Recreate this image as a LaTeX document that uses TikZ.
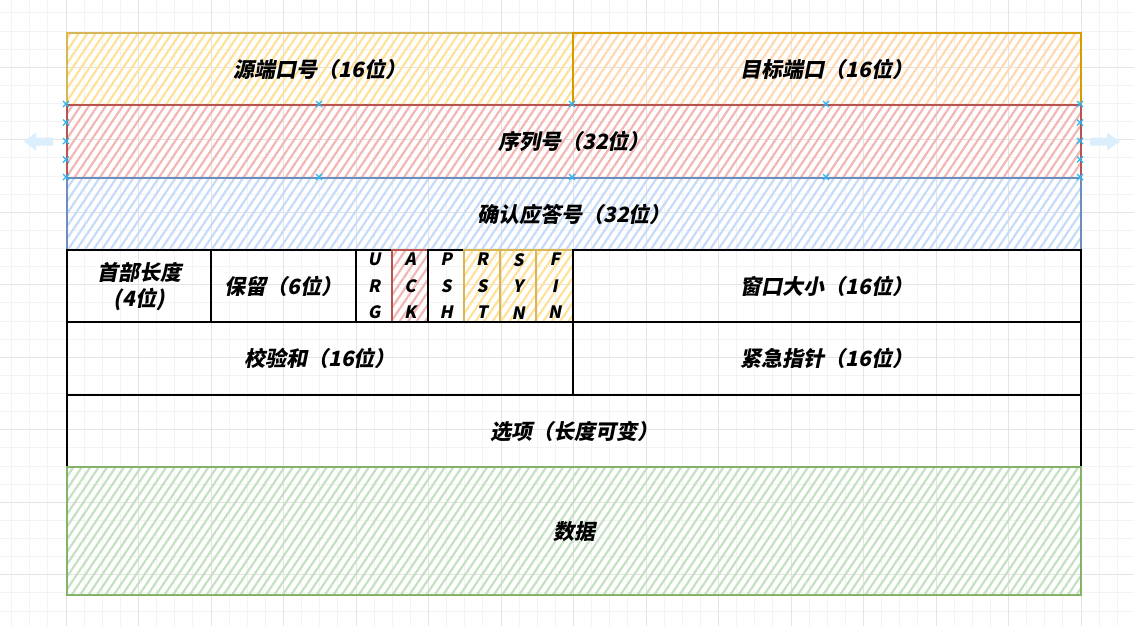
\documentclass[tikz,border=0pt]{standalone}
\usepackage{fontspec}
\setmainfont{Noto Sans CJK SC}[FakeSlant=0.2]
\usetikzlibrary{patterns.meta}
\definecolor{ystroke}{HTML}{D6B656}
\definecolor{yhatch}{HTML}{FFE29A}
\definecolor{ostroke}{HTML}{D79B00}
\definecolor{ohatch}{HTML}{FFD9B0}
\definecolor{rstroke}{HTML}{B85450}
\definecolor{rhatch}{HTML}{F2B7B4}
\definecolor{bstroke}{HTML}{6C8EBF}
\definecolor{bhatch}{HTML}{C6DBF8}
\definecolor{gstroke}{HTML}{82B366}
\definecolor{ghatch}{HTML}{C5E0C2}
\definecolor{gridminor}{HTML}{F3F3F3}
\definecolor{gridmajor}{HTML}{E4E4E4}
\definecolor{handle}{HTML}{29B6F2}
\definecolor{uiarrow}{HTML}{DBEEFB}
\tikzset{
  base/.style={draw=black, line width=2.3pt, anchor=north west, inner sep=0pt,
    align=center, font=\fontsize{21}{26}\selectfont\bfseries},
  hatch/.style 2 args={base, draw=#1,
    pattern={Lines[angle=56,distance=7pt,line width=2.2pt]}, pattern color=#2},
  flag/.style={font=\fontsize{17}{26.5}\selectfont\bfseries, minimum width=36pt, minimum height=72pt},
  gminor/.style={draw=gridminor, line width=0.8pt},
  gmajor/.style={draw=gridmajor, line width=1pt},
  hmark/.style={draw=handle, line width=1.2pt},
  uiarr/.style={fill=uiarrow, draw=none},
}
\begin{document}
\begin{tikzpicture}[x=1pt, y=-1pt]
\useasboundingbox (0,0) rectangle (1134,626);
\fill[white] (0,0) rectangle (1134,626);
% grid
\begin{scope}
\clip (0,0) rectangle (1134,626);
\foreach \i in {0,...,63} {\draw[gminor] ({-6.5+\i*18.125},0) -- ++(0,626);}
\foreach \i in {0,...,35} {\draw[gminor] (0,{-5.25+\i*18.125}) -- ++(1134,0);}
\foreach \i in {0,...,16} {\draw[gmajor] ({-6.5+\i*72.5},0) -- ++(0,626);}
\foreach \i in {0,...,9} {\draw[gmajor] (0,{-5.25+\i*72.5}) -- ++(1134,0);}
\end{scope}
% UI arrows
\path[uiarr] (24,141.5) -- (36,132.5) -- (36,137.5) -- (53,137.5) -- (53,145.5) -- (36,145.5) -- (36,150.5) -- cycle;
\path[uiarr] (1120,141.5) -- (1107,132.5) -- (1107,137.5) -- (1090,137.5) -- (1090,145.5) -- (1107,145.5) -- (1107,150.5) -- cycle;
% rows
\node[hatch={ystroke}{yhatch}, minimum width=506pt, minimum height=72pt] (src) at (66,32) {源端口号（16位）};
\node[hatch={ostroke}{ohatch}, minimum width=508pt, minimum height=72pt] (dst) at (572,32) {目标端口（16位）};
\node[hatch={rstroke}{rhatch}, minimum width=1014pt, minimum height=73pt] (seq) at (66,104) {序列号（32位）};
\node[hatch={bstroke}{bhatch}, minimum width=1014pt, minimum height=72pt] (ackn) at (66,177) {确认应答号（32位）};
\node[base, minimum width=144pt, minimum height=72pt] (hlen) at (66,249) {首部长度\\(4位)};
\node[base, minimum width=145pt, minimum height=72pt] (rsv) at (210,249) {保留（6位）};
\node[base, flag] (furg) at (355,249) {U\\R\\G};
\node[hatch={rstroke}{rhatch}, flag] (fack) at (391,249) {A\\C\\K};
\node[base, flag] (fpsh) at (427,249) {P\\S\\H};
\node[hatch={ystroke}{yhatch}, flag] (frst) at (463,249) {R\\S\\T};
\node[hatch={ystroke}{yhatch}, flag] (fsyn) at (499,249) {S\\Y\\N};
\node[hatch={ystroke}{yhatch}, flag, minimum width=37pt] (ffin) at (535,249) {F\\I\\N};
\node[base, minimum width=508pt, minimum height=72pt] (win) at (572,249) {窗口大小（16位）};
\node[base, minimum width=506pt, minimum height=73pt] (chk) at (66,321) {校验和（16位）};
\node[base, minimum width=508pt, minimum height=73pt] (urp) at (572,321) {紧急指针（16位）};
\node[base, minimum width=1014pt, minimum height=72pt] (opt) at (66,394) {选项（长度可变）};
\node[hatch={gstroke}{ghatch}, minimum width=1014pt, minimum height=128pt] (data) at (66,466) {数据};
% selection handles on the sequence row
\foreach \p in {(66,104),(66,122.5),(66,141),(66,159.5),(66,177),
                (1080,104),(1080,122.5),(1080,141),(1080,159.5),(1080,177),
                (319,104),(572,104),(826,104),(319,177),(572,177),(826,177)} {
  \draw[hmark] \p ++(-3,-3) -- ++(6,6) \p ++(-3,3) -- ++(6,-6);
}
\end{tikzpicture}
\end{document}
